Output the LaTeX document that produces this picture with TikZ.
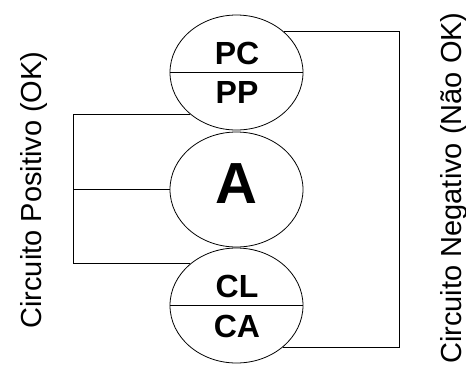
\documentclass[tikz,border=0pt]{standalone}
\usepackage{fontspec}
\setmainfont{Liberation Sans}
\usetikzlibrary{shapes.geometric}
\begin{document}
\begin{tikzpicture}[x=1pt,y=-1pt,
  oval/.style={draw, ellipse, line width=0.8pt, minimum width=133pt, minimum height=115pt, inner sep=0pt},
  wire/.style={line width=0.8pt},
  lbl/.style={font=\fontsize{32}{32}\selectfont\bfseries, inner sep=0pt},
  side/.style={rotate=90, anchor=base, font=\fontsize{29}{29}\selectfont, inner sep=0pt}]
\useasboundingbox (0,0) rectangle (466,368);
\node[oval] (top) at (236.5,72.5) {};
\node[oval] (mid) at (236.5,189.5) {};
\node[oval] (bot) at (236.5,305.5) {};
\draw[wire] (top.west) -- (top.east);
\draw[wire] (bot.west) -- (bot.east);
\node[lbl] (pc) at (237,53) {PC};
\node[lbl] (pp) at (237,92) {PP};
\node[lbl] (cl) at (237,286) {CL};
\node[lbl] (ca) at (237,326) {CA};
\node[font=\fontsize{58}{58}\selectfont\bfseries, inner sep=0pt] (a) at (236.5,184) {A};
\coordinate (L) at (73,189.5);
\coordinate (R) at (399,189.5);
\draw[wire] (top.222) -- (top.222 -| L) -- (bot.138 -| L) -- (bot.138);
\draw[wire] (mid.west) -- (mid.west -| L);
\draw[wire] (top.41) -- (top.41 -| R) -- (bot.318 -| R) -- (bot.318);
\node[side] (pos) at (41,190) {Circuito Positivo (OK)};
\node[side] (neg) at (461,188) {Circuito Negativo (Não OK)};
\end{tikzpicture}
\end{document}
